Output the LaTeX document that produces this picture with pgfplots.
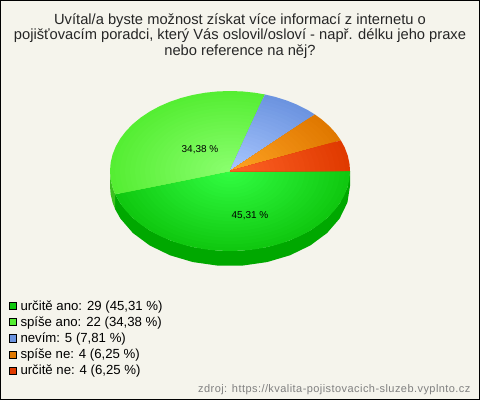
\documentclass[border=0pt]{standalone}
\usepackage{fontspec}
\setmainfont{Liberation Sans}
\newfontfamily\srcfont[LetterSpace=4]{Liberation Sans}
\usepackage{pgfplots}
\usepackage{pgfplotstable}
\pgfplotsset{compat=1.18}
\definecolor{bgc}{HTML}{F5F4EC}
\definecolor{Ain}{HTML}{33FF44}\definecolor{Aout}{HTML}{10C810}\definecolor{Aside}{HTML}{00A800}
\definecolor{Bin}{HTML}{8CFF70}\definecolor{Bout}{HTML}{55EE33}\definecolor{Bside}{HTML}{3CC020}
\definecolor{Cin}{HTML}{AAC8FF}\definecolor{Cout}{HTML}{6C94E0}
\definecolor{Din}{HTML}{FFA424}\definecolor{Dout}{HTML}{E07800}
\definecolor{Ein}{HTML}{FF6428}\definecolor{Eout}{HTML}{E03A00}
% wedges: t = angle on the ellipse (from the shares 45.31, 34.38, 7.81, 6.25, 6.25 %), r = radius factor, d = depth offset
\pgfplotstableread[row sep=\\]{t r d\\ 0 0 0\\ 0 1 0\\ 6 1 0\\ 12 1 0\\ 18 1 0\\ 24 1 0\\ 30 1 0\\ 36 1 0\\ 42 1 0\\ 48 1 0\\ 54 1 0\\ 60 1 0\\ 66 1 0\\ 72 1 0\\ 78 1 0\\ 84 1 0\\ 90 1 0\\ 96 1 0\\ 102 1 0\\ 108 1 0\\ 114 1 0\\ 120 1 0\\ 126 1 0\\ 132 1 0\\ 138 1 0\\ 144 1 0\\ 150 1 0\\ 156 1 0\\ 163.1 1 0\\}\tabA
\pgfplotstableread[row sep=\\]{t r d\\ 0 0 0\\ 163.1 1 0\\ 168 1 0\\ 174 1 0\\ 180 1 0\\ 186 1 0\\ 192 1 0\\ 198 1 0\\ 204 1 0\\ 210 1 0\\ 216 1 0\\ 222 1 0\\ 228 1 0\\ 234 1 0\\ 240 1 0\\ 246 1 0\\ 252 1 0\\ 258 1 0\\ 264 1 0\\ 270 1 0\\ 276 1 0\\ 282 1 0\\ 286.9 1 0\\}\tabB
\pgfplotstableread[row sep=\\]{t r d\\ 0 0 0\\ 286.9 1 0\\ 292 1 0\\ 298 1 0\\ 304 1 0\\ 310 1 0\\ 315 1 0\\}\tabC
\pgfplotstableread[row sep=\\]{t r d\\ 0 0 0\\ 315 1 0\\ 320 1 0\\ 326 1 0\\ 332 1 0\\ 337.5 1 0\\}\tabD
\pgfplotstableread[row sep=\\]{t r d\\ 0 0 0\\ 337.5 1 0\\ 343 1 0\\ 349 1 0\\ 355 1 0\\ 360 1 0\\}\tabE
\pgfplotstableread[row sep=\\]{t r d\\ 0 1 0\\ 12 1 0\\ 24 1 0\\ 36 1 0\\ 48 1 0\\ 60 1 0\\ 72 1 0\\ 84 1 0\\ 96 1 0\\ 108 1 0\\ 120 1 0\\ 132 1 0\\ 144 1 0\\ 156 1 0\\ 163.1 1 0\\ 163.1 1 15\\ 156 1 15\\ 144 1 15\\ 132 1 15\\ 120 1 15\\ 108 1 15\\ 96 1 15\\ 84 1 15\\ 72 1 15\\ 60 1 15\\ 48 1 15\\ 36 1 15\\ 24 1 15\\ 12 1 15\\ 0 1 15\\}\sideA
\pgfplotstableread[row sep=\\]{t r d\\ 163.1 1 0\\ 168 1 0\\ 174 1 0\\ 180 1 0\\ 180 1 15\\ 174 1 15\\ 168 1 15\\ 163.1 1 15\\}\sideB
\newcommand\pieX{230+120*\thisrow{r}*cos(\thisrow{t})}
\newcommand\pieY{171+80*\thisrow{r}*sin(\thisrow{t})+\thisrow{d}}
% shaded wedge, concentric layers from the rim to the centre
\newcommand\wedgeplot[4]{%
  \addplot[draw=none,fill=#3,legend image code/.code={\path[fill=#3,draw=black,line width=0.8pt] (0pt,-3.6pt) rectangle (7.2pt,3.6pt);}]
    table[x expr={\pieX},y expr={\pieY}] {#1};
  \addlegendentry{#4}
  \pgfplotsforeachungrouped \k in {1,...,23}{%
    \pgfmathsetmacro\rr{1-\k/24}%
    \pgfmathsetmacro\pct{100*\k/24}%
    \edef\temp{\noexpand\addplot[draw=none,fill={#2!\pct!#3},forget plot]
      table[x expr={230+120*\rr*\noexpand\thisrow{r}*cos(\noexpand\thisrow{t})},
            y expr={171+80*\rr*\noexpand\thisrow{r}*sin(\noexpand\thisrow{t})}] {\noexpand#1};}%
    \temp
  }%
}
\begin{document}
\begin{tikzpicture}
\begin{axis}[
  scale only axis,width=479pt,height=399pt,
  xmin=0.5,xmax=479.5,ymin=0.5,ymax=399.5,y dir=reverse,
  xtick=\empty,ytick=\empty,
  axis line style={black,line width=1pt},
  axis background/.style={fill=bgc},
  clip=false,
  legend cell align=left,
  legend style={draw=none,fill=none,at={(axis cs:8.5,298.5)},anchor=north west,
    font=\fontsize{13.2}{15}\selectfont,row sep=1.0pt,
    /tikz/every odd column/.append style={column sep=2pt},inner sep=0pt,outer sep=0pt},
]
\addplot[draw=none,fill=Aside,forget plot] table[x expr={\pieX},y expr={\pieY}] {\sideA};
\addplot[draw=none,fill=Bside,forget plot] table[x expr={\pieX},y expr={\pieY}] {\sideB};
\wedgeplot{\tabA}{Ain}{Aout}{určitě ano: 29 (45,31 \%)}
\wedgeplot{\tabB}{Bin}{Bout}{spíše ano: 22 (34,38 \%)}
\wedgeplot{\tabC}{Cin}{Cout}{nevím: 5 (7,81 \%)}
\wedgeplot{\tabD}{Din}{Dout}{spíše ne: 4 (6,25 \%)}
\wedgeplot{\tabE}{Ein}{Eout}{určitě ne: 4 (6,25 \%)}
\node[align=center,font=\fontsize{14.7}{15.6}\selectfont,text=black!85] at (axis cs:240,36)
  {Uvítal/a byste možnost získat více informací z internetu o\\
   pojišťovacím poradci, který Vás oslovil/osloví - např. délku jeho praxe\\
   nebo reference na něj?};
\node[font=\fontsize{10}{12}\selectfont] at (axis cs:200,149.5) {34,38 \%};
\node[font=\fontsize{10}{12}\selectfont] at (axis cs:250,215.5) {45,31 \%};
\node[anchor=east,font=\srcfont\fontsize{11}{13}\selectfont,text=black!50] at (axis cs:474,390)
  {zdroj: https://kvalita-pojistovacich-sluzeb.vyplnto.cz};
\end{axis}
\end{tikzpicture}
\end{document}
